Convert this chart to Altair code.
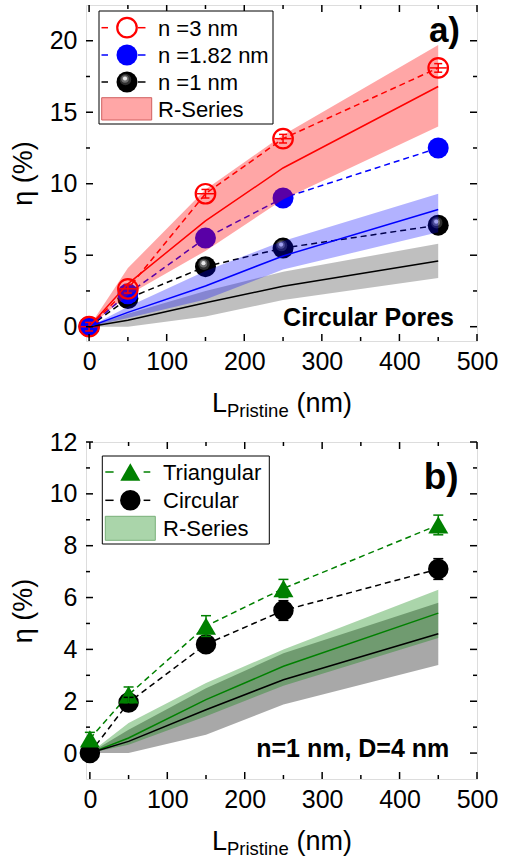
import altair as alt
import pandas as pd

FONT = "Liberation Sans"

# Pristine length (nm)
L_nm = [0, 50, 150, 250, 450]

# (a) circular pores: efficiency for three pore sizes (%)
eta_n3 = [0.0, 2.65, 9.3, 13.15, 18.1]
eta_n182 = [0.0, 2.3, 6.2, 9.0, 12.5]
eta_n1 = [0.0, 1.97, 4.2, 5.5, 7.1]
err_a = [0.3, 0.3, 0.3, 0.3, 0.3]

# (a) R-series model: centre line and band limits
rs3_mid = [0.0, 3.0, 7.4, 11.1, 16.8]
rs3_lo = [0.0, 2.2, 5.3, 8.9, 14.0]
rs3_hi = [0.0, 4.1, 9.6, 13.4, 19.7]
rs182_mid = [0.0, 1.0, 2.85, 4.95, 8.2]
rs182_lo = [0.0, 0.6, 1.9, 4.0, 6.6]
rs182_hi = [0.0, 1.4, 3.9, 6.0, 9.3]
rs1_mid = [0.0, 0.45, 1.67, 2.83, 4.6]
rs1_lo = [0.0, 0.0, 0.71, 1.87, 3.4]
rs1_hi = [0.0, 0.9, 2.5, 3.85, 5.8]

# (b) triangular vs circular pores, n = 1 nm, D = 4 nm
eta_tri = [0.55, 2.25, 4.9, 6.35, 8.8]
err_tri = [0.25, 0.3, 0.4, 0.35, 0.38]
eta_circ = [0.0, 1.95, 4.2, 5.5, 7.1]
err_circ = [0.15, 0.2, 0.3, 0.38, 0.4]
rst_mid = [0.0, 0.58, 2.06, 3.35, 5.4]
rst_lo = [0.0, 0.32, 1.42, 2.6, 4.44]
rst_hi = [0.0, 1.16, 2.7, 4.0, 6.3]

# axis ticks
xa_major = [0, 100, 200, 300, 400, 500]
xa_minor = [50, 150, 250, 350, 450]
ya_major = [0, 5, 10, 15, 20]
ya_minor = [2.5, 7.5, 12.5, 17.5]
yb_major = [0, 2, 4, 6, 8, 10, 12]
yb_minor = [1, 3, 5, 7, 9, 11]

RED, BLUE, GREEN, BLACK = "#ff0000", "#0000ff", "#008000", "#000000"

WA, HA = 391, 336
WB, HB = 391, 337

one = pd.DataFrame({"k": [0]})
HBAR = "M-1,0L1,0"


def make_axes(xdom, ydom, ylabels):
    xs = alt.Scale(domain=xdom, nice=False, zero=False)
    ys = alt.Scale(domain=ydom, nice=False, zero=False)
    xax = alt.Axis(values=xa_major, title=None, ticks=False, domain=False, grid=False,
                   labelFlush=False, labelOverlap=False,
                   labelFontSize=25, labelPadding=8, labelFont=FONT, labelColor="black")
    yax = alt.Axis(values=ylabels, title="η (%)", ticks=False, domain=False, grid=False,
                   labelFontSize=25, labelPadding=9, labelFont=FONT, labelColor="black",
                   titleFontSize=27, titleFontWeight="normal", titleFont=FONT,
                   titlePadding=12, titleColor="black")
    return xs, ys, xax, yax


def tick_layers(xs, ys, xax, yax, ymaj, ymin, W, H):
    layers = []
    for vals, ln in ((xa_major, 7), (xa_minor, 4)):
        d = pd.DataFrame({"L": vals})
        for y0, y1 in ((H, H - ln), (0, ln)):
            layers.append(alt.Chart(d).mark_rule(color="black", strokeWidth=1.5).encode(
                x=alt.X("L:Q", scale=xs, axis=xax), y=alt.value(y0), y2=alt.value(y1)))
    for vals, ln in ((ymaj, 7), (ymin, 4)):
        d = pd.DataFrame({"v": vals})
        for x0, x1 in ((0, ln), (W, W - ln)):
            layers.append(alt.Chart(d).mark_rule(color="black", strokeWidth=1.5).encode(
                y=alt.Y("v:Q", scale=ys, axis=yax), x=alt.value(x0), x2=alt.value(x1)))
    return layers


def sphere(chart, x, y, size):
    # black ball with a soft highlight towards the upper left
    parts = [
        chart.mark_point(shape="circle", filled=True, size=size, color="black", opacity=1,
                         strokeWidth=0).encode(x=x, y=y),
        chart.mark_point(shape="circle", filled=True, size=size * 0.3, color="#2e2e2e",
                         opacity=1, strokeWidth=0, xOffset=-1.5, yOffset=-2.5).encode(x=x, y=y),
        chart.mark_point(shape="circle", filled=True, size=size * 0.13, color="#6e6e6e",
                         opacity=1, strokeWidth=0, xOffset=-2, yOffset=-3).encode(x=x, y=y),
        chart.mark_point(shape="circle", filled=True, size=size * 0.04, color="#e8e8e8",
                         opacity=1, strokeWidth=0, xOffset=-2, yOffset=-3.5).encode(x=x, y=y),
    ]
    return parts


def text_at(txt, x, y, size, weight="normal", align="left", baseline="middle"):
    return alt.Chart(one).mark_text(align=align, baseline=baseline, fontSize=size,
                                    fontWeight=weight, font=FONT, color="black").encode(
        x=alt.value(x), y=alt.value(y), text=alt.value(txt))


def xtitle(H):
    # L with subscript "Pristine" followed by (nm)
    return [
        text_at("L", 126, H + 70.5, 27, baseline="alphabetic"),
        text_at("Pristine", 141, H + 76, 18.5, baseline="alphabetic"),
        text_at("(nm)", 210.5, H + 70.5, 27, baseline="alphabetic"),
    ]


def err_layers(chart, xenc, field, errfield, ys, yax, color, cap=8):
    c = chart.transform_calculate(lo=f"datum.{field} - datum.{errfield}",
                                  hi=f"datum.{field} + datum.{errfield}")
    return [
        c.mark_rule(color=color, strokeWidth=1.5).encode(
            x=xenc, y=alt.Y("lo:Q", scale=ys, axis=yax), y2="hi:Q"),
        c.mark_point(shape=HBAR, size=cap * cap, color=color, strokeWidth=1.5,
                     filled=False, opacity=1).encode(x=xenc, y=alt.Y("lo:Q", scale=ys, axis=yax)),
        c.mark_point(shape=HBAR, size=cap * cap, color=color, strokeWidth=1.5,
                     filled=False, opacity=1).encode(x=xenc, y=alt.Y("hi:Q", scale=ys, axis=yax)),
    ]


# ---------------- panel (a) ----------------
dfa = pd.DataFrame({
    "L": L_nm, "n3": eta_n3, "n182": eta_n182, "n1": eta_n1, "err": err_a,
    "r3m": rs3_mid, "r3l": rs3_lo, "r3h": rs3_hi,
    "r2m": rs182_mid, "r2l": rs182_lo, "r2h": rs182_hi,
    "r1m": rs1_mid, "r1l": rs1_lo, "r1h": rs1_hi,
})
xs_a, ys_a, xax_a, yax_a = make_axes([-4, 500], [-1, 22.5], ya_major)
ca = alt.Chart(dfa)
Xa = alt.X("L:Q", scale=xs_a, axis=xax_a)


def Ya(f):
    return alt.Y(f"{f}:Q", scale=ys_a, axis=yax_a)


a_layers = []
# measured series: dashed guides
for f, col in (("n1", BLACK), ("n182", BLUE), ("n3", RED)):
    a_layers.append(ca.mark_line(color=col, strokeWidth=1.5, strokeDash=[6, 4]).encode(x=Xa, y=Ya(f)))
# markers
a_layers += sphere(ca, Xa, Ya("n1"), 440)
a_layers += err_layers(ca, Xa, "n182", "err", ys_a, yax_a, "#3030ff")
a_layers.append(ca.mark_point(shape="circle", filled=True, size=440, color=BLUE, opacity=1,
                              strokeWidth=0).encode(x=Xa, y=Ya("n182")))
a_layers.append(ca.mark_point(shape="circle", filled=False, size=380, color=RED, opacity=1,
                              strokeWidth=2.2).encode(x=Xa, y=Ya("n3")))
# horizontal bar across each open circle
a_layers.append(ca.mark_point(shape=HBAR, filled=False, size=300, color=RED, opacity=1,
                              strokeWidth=1.5).encode(x=Xa, y=Ya("n3")))
a_layers += err_layers(ca, Xa, "n3", "err", ys_a, yax_a, RED)
# R-series bands
for lo, hi, col, op in (("r1l", "r1h", BLACK, 0.25), ("r2l", "r2h", BLUE, 0.3), ("r3l", "r3h", RED, 0.35)):
    a_layers.append(ca.mark_area(color=col, opacity=op).encode(x=Xa, y=Ya(lo), y2=f"{hi}:Q"))
for f, col in (("r1m", BLACK), ("r2m", BLUE), ("r3m", RED)):
    a_layers.append(ca.mark_line(color=col, strokeWidth=1.5).encode(x=Xa, y=Ya(f)))

a_layers += tick_layers(xs_a, ys_a, xax_a, yax_a, ya_major, ya_minor, WA, HA)

# legend (a)
ol = alt.Chart(one)
a_layers.append(ol.mark_rect(fill="white", stroke="black", strokeWidth=1).encode(
    x=alt.value(13), x2=alt.value(187), y=alt.value(6), y2=alt.value(119)))
for yy, col in ((22.7, RED), (50, BLUE), (77, BLACK)):
    for x0, x1 in ((15.5, 22), (52, 59.5)):
        a_layers.append(ol.mark_rule(color=col, strokeWidth=1.5).encode(
            x=alt.value(x0), x2=alt.value(x1), y=alt.value(yy)))
a_layers.append(ol.mark_point(shape="circle", filled=False, size=380, color=RED, opacity=1,
                              strokeWidth=2.2).encode(x=alt.value(41), y=alt.value(22.7)))
a_layers.append(ol.mark_point(shape="circle", filled=True, size=440, color=BLUE, opacity=1,
                              strokeWidth=0).encode(x=alt.value(41), y=alt.value(50)))
a_layers += sphere(ol, alt.value(41), alt.value(77), 440)
a_layers.append(ol.mark_rect(fill=RED, fillOpacity=0.35, stroke="#d06060", strokeWidth=1).encode(
    x=alt.value(15.7), x2=alt.value(65.7), y=alt.value(92.7), y2=alt.value(115)))
a_layers.append(text_at("n =3 nm", 72, 23.5, 22))
a_layers.append(text_at("n =1.82 nm", 72, 50.8, 22))
a_layers.append(text_at("n =1 nm", 72, 77.8, 22))
a_layers.append(text_at("R-Series", 72, 104.5, 22))

a_layers.append(text_at("a)", 374, 37, 35, weight="bold", align="right", baseline="alphabetic"))
a_layers.append(text_at("Circular Pores", 368, 321, 25, weight="bold", align="right",
                        baseline="alphabetic"))
a_layers += xtitle(HA)

panel_a = alt.layer(*a_layers).properties(width=WA, height=HA)

# ---------------- panel (b) ----------------
dfb = pd.DataFrame({
    "L": L_nm, "tri": eta_tri, "etri": err_tri, "circ": eta_circ, "ecirc": err_circ,
    "tm": rst_mid, "tl": rst_lo, "th": rst_hi,
    "cm": rs1_mid, "cl": rs1_lo, "ch": rs1_hi,
})
xs_b, ys_b, xax_b, yax_b = make_axes([-5, 500], [-1, 12], yb_major)
cb = alt.Chart(dfb)
Xb = alt.X("L:Q", scale=xs_b, axis=xax_b)


def Yb(f):
    return alt.Y(f"{f}:Q", scale=ys_b, axis=yax_b)


b_layers = [
    cb.mark_area(color=BLACK, opacity=0.34).encode(x=Xb, y=Yb("cl"), y2="ch:Q"),
    cb.mark_area(color=GREEN, opacity=0.333).encode(x=Xb, y=Yb("tl"), y2="th:Q"),
    cb.mark_line(color=GREEN, strokeWidth=1.5).encode(x=Xb, y=Yb("tm")),
    cb.mark_line(color=BLACK, strokeWidth=1.5).encode(x=Xb, y=Yb("cm")),
    cb.mark_line(color=GREEN, strokeWidth=1.5, strokeDash=[6, 4]).encode(x=Xb, y=Yb("tri")),
    cb.mark_line(color=BLACK, strokeWidth=1.5, strokeDash=[6, 4]).encode(x=Xb, y=Yb("circ")),
    cb.mark_point(shape="circle", filled=True, size=420, color=BLACK, opacity=1,
                  strokeWidth=0).encode(x=Xb, y=Yb("circ")),
    cb.mark_point(shape="triangle-up", filled=True, size=400, color=GREEN, opacity=1,
                  strokeWidth=0).encode(x=Xb, y=Yb("tri")),
]
b_layers += err_layers(cb, Xb, "circ", "ecirc", ys_b, yax_b, BLACK, cap=10)
b_layers += err_layers(cb, Xb, "tri", "etri", ys_b, yax_b, GREEN, cap=10)
b_layers += tick_layers(xs_b, ys_b, xax_b, yax_b, yb_major, yb_minor, WB, HB)

ol2 = alt.Chart(one)
b_layers.append(ol2.mark_rect(fill="white", stroke="black", strokeWidth=1).encode(
    x=alt.value(16.3), x2=alt.value(183.3), y=alt.value(14), y2=alt.value(102)))
for yy, col in ((30, GREEN), (58.3, BLACK)):
    for x0, x1 in ((19.3, 27.6), (57.6, 64.3)):
        b_layers.append(ol2.mark_rule(color=col, strokeWidth=1.5).encode(
            x=alt.value(x0), x2=alt.value(x1), y=alt.value(yy)))
b_layers.append(ol2.mark_point(shape="triangle-up", filled=True, size=400, color=GREEN, opacity=1,
                               strokeWidth=0).encode(x=alt.value(44.3), y=alt.value(30)))
b_layers.append(ol2.mark_point(shape="circle", filled=True, size=420, color=BLACK, opacity=1,
                               strokeWidth=0).encode(x=alt.value(44.3), y=alt.value(58.3)))
b_layers.append(ol2.mark_rect(fill=GREEN, fillOpacity=0.333, stroke="#78b078", strokeWidth=1).encode(
    x=alt.value(19.3), x2=alt.value(69.3), y=alt.value(74.3), y2=alt.value(98.3)))
b_layers.append(text_at("Triangular", 77, 30.8, 22))
b_layers.append(text_at("Circular", 77, 59, 22))
b_layers.append(text_at("R-Series", 77, 87, 22))
b_layers.append(text_at("b)", 372.6, 46.7, 37, weight="bold", align="right", baseline="alphabetic"))
b_layers.append(text_at("n=1 nm, D=4 nm", 363.3, 315, 25, weight="bold", align="right",
                        baseline="alphabetic"))
b_layers += xtitle(HB)

panel_b = alt.layer(*b_layers).properties(width=WB, height=HB)

chart = alt.vconcat(panel_a, panel_b, spacing=8).properties(
    padding={"left": 8, "top": 3, "right": 0, "bottom": 0}
).configure_view(stroke="black", strokeWidth=2).configure(background="white")

chart.save("out.html", embed_options={"renderer": "svg", "actions": False})
